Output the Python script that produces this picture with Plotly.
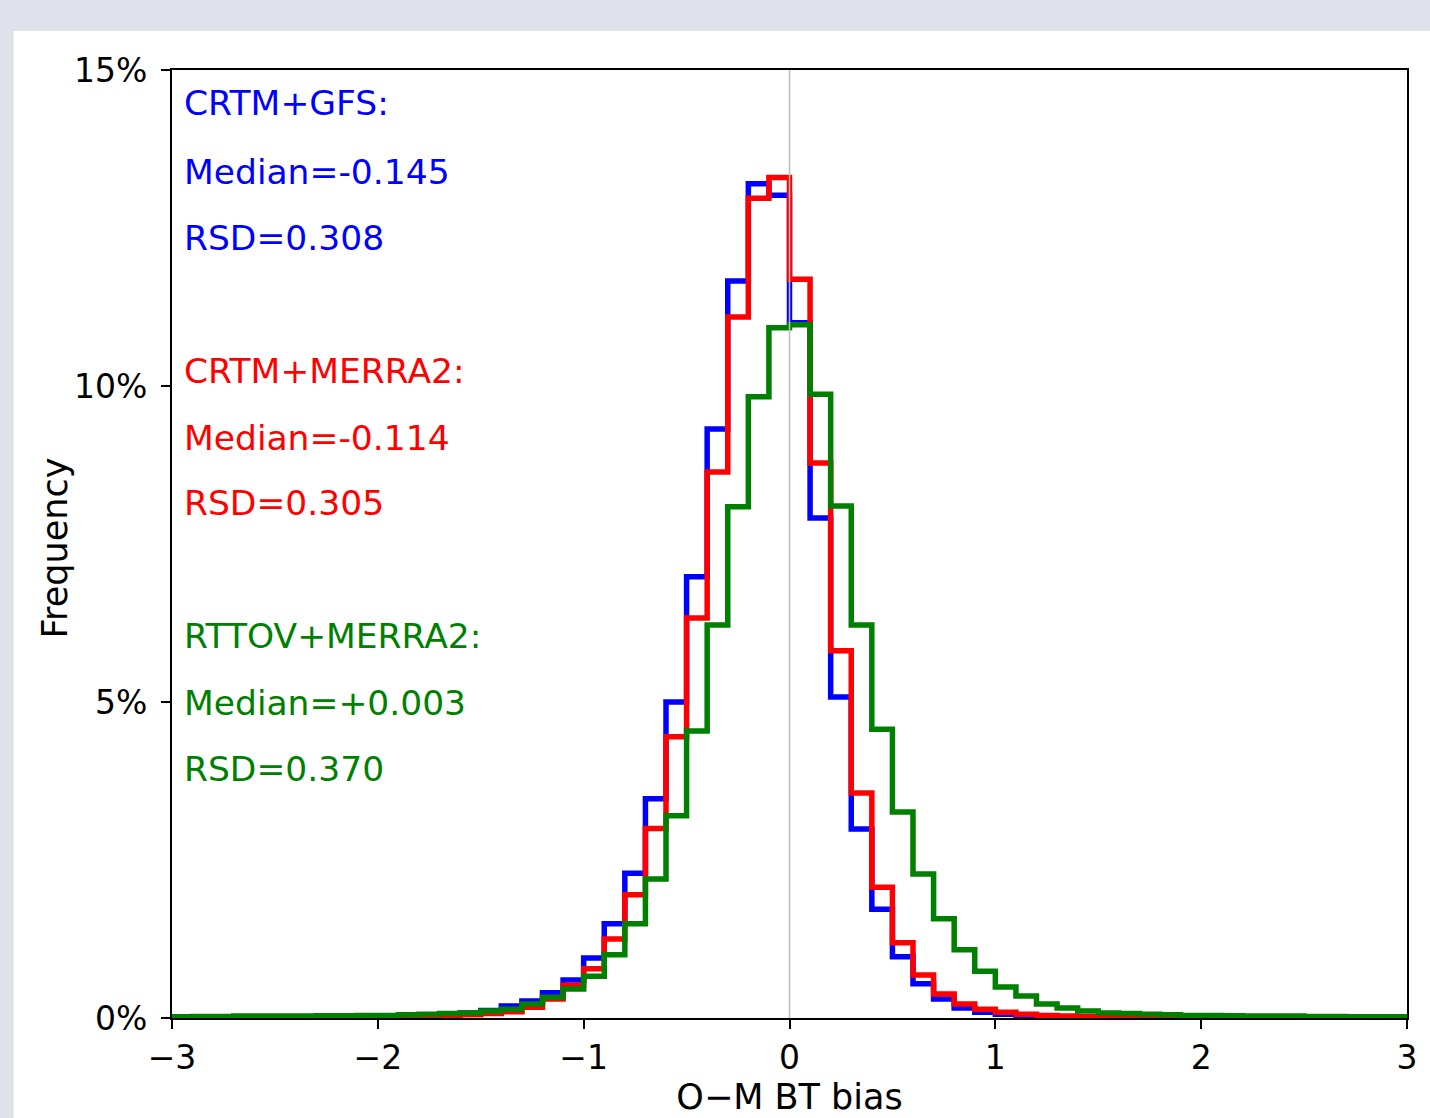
import plotly.graph_objects as go

# ---- data (percent frequency per 0.1-wide bin, from -3 to 3) ----
bin_start = -3.0
bin_width = 0.1

crtm_gfs = [0.005, 0.005, 0.006, 0.007, 0.008, 0.009, 0.010, 0.012, 0.014, 0.016,
            0.02, 0.03, 0.04, 0.06, 0.08,
            0.12, 0.19, 0.27, 0.40, 0.60, 0.95, 1.49, 2.29, 3.47, 5.00,
            6.98, 9.32, 11.66, 13.20, 13.02,
            11.00, 7.91, 5.08, 2.99, 1.72, 0.97, 0.54, 0.30, 0.16, 0.09,
            0.06, 0.04, 0.03, 0.02, 0.015, 0.012, 0.010, 0.009, 0.008, 0.007,
            0.006, 0.006, 0.005, 0.005, 0.004, 0.004, 0.004, 0.003, 0.003, 0.003]

crtm_merra2 = [0.004, 0.004, 0.005, 0.005, 0.006, 0.007, 0.008, 0.009, 0.010, 0.012,
               0.015, 0.02, 0.03, 0.04, 0.05,
               0.07, 0.10, 0.17, 0.30, 0.52, 0.78, 1.25, 1.95, 3.00, 4.45,
               6.33, 8.64, 11.09, 12.97, 13.30,
               11.69, 8.78, 5.81, 3.56, 2.07, 1.19, 0.68, 0.38, 0.22, 0.14,
               0.09, 0.06, 0.04, 0.03, 0.02, 0.015, 0.012, 0.010, 0.009, 0.008,
               0.007, 0.006, 0.006, 0.005, 0.005, 0.004, 0.004, 0.004, 0.003, 0.003]

rttov_merra2 = [0.02, 0.025, 0.025, 0.03, 0.03, 0.03, 0.03, 0.035, 0.035, 0.04,
                0.04, 0.05, 0.06, 0.07, 0.08,
                0.11, 0.14, 0.22, 0.33, 0.46, 0.66, 1.00, 1.49, 2.20, 3.20,
                4.54, 6.22, 8.09, 9.83, 10.92,
                10.97, 9.87, 8.10, 6.22, 4.57, 3.26, 2.28, 1.57, 1.08, 0.74,
                0.49, 0.35, 0.22, 0.16, 0.11, 0.08, 0.07, 0.06, 0.05, 0.04,
                0.04, 0.035, 0.03, 0.03, 0.03, 0.025, 0.025, 0.02, 0.02, 0.02]

series_names = ["CRTM+GFS", "CRTM+MERRA2", "RTTOV+MERRA2"]
series_colors = ["#0000ff", "#ff0000", "#008000"]
series_values = [crtm_gfs, crtm_merra2, rttov_merra2]

stat_lines = [
    ["CRTM+GFS:", "Median=-0.145", "RSD=0.308"],
    ["CRTM+MERRA2:", "Median=-0.114", "RSD=0.305"],
    ["RTTOV+MERRA2:", "Median=+0.003", "RSD=0.370"],
]

x_ticks = [-3, -2, -1, 0, 1, 2, 3]
x_tick_text = ["\u22123", "\u22122", "\u22121", "0", "1", "2", "3"]
y_ticks = [0, 5, 10, 15]
y_tick_text = ["0%", "5%", "10%", "15%"]

FONT = "DejaVu Sans"

fig = go.Figure()

for name, color, vals in zip(series_names, series_colors, series_values):
    n = len(vals)
    edges = [round(bin_start + i * bin_width, 6) for i in range(n + 1)]
    xs = [edges[0]] + edges
    ys = [0] + list(vals) + [0]
    fig.add_trace(go.Scatter(
        x=xs, y=ys, mode="lines", line=dict(shape="hv", color=color, width=5.5),
        name=name, showlegend=False, hoverinfo="skip"))

# vertical reference line at 0
fig.add_trace(go.Scatter(x=[0, 0], y=[0, 15], mode="lines",
                         line=dict(color="#bdbdbd", width=1.5),
                         showlegend=False, hoverinfo="skip"))

PL, PR, PT, PB = 172, 1412, 70, 1018
PW, PH = PR - PL, PB - PT

# white figure panel on grey page
fig.add_shape(type="rect", xref="paper", yref="paper",
              x0=(13 - PL) / PW, x1=(1440 - PL) / PW,
              y0=(PB - 1130) / PH, y1=(PB - 31) / PH,
              fillcolor="white", line=dict(width=0), layer="below")

# stats text
y_pix = [[103, 172, 238], [371, 438, 503], [636, 703, 769]]
for lines, color, ys in zip(stat_lines, series_colors, y_pix):
    for txt, yp in zip(lines, ys):
        fig.add_annotation(
            text=txt, xref="paper", yref="paper",
            x=(182 - PL) / PW, y=(PB - yp) / PH,
            xanchor="left", yanchor="middle", showarrow=False,
            font=dict(family=FONT, size=34.5, color=color))

# y-axis title
fig.add_annotation(
    text="Frequency", xref="paper", yref="paper",
    x=(55 - PL) / PW, y=(PB - 548) / PH, textangle=-90,
    xanchor="center", yanchor="middle", showarrow=False,
    font=dict(family=FONT, size=35, color="black"))

fig.update_layout(
    width=1430, height=1118,
    margin=dict(l=PL, r=1430 - PR, t=PT, b=1118 - PB),
    paper_bgcolor="#dfe2eb",
    plot_bgcolor="white",
    font=dict(family=FONT, size=33, color="black"),
    xaxis=dict(range=[-3, 3], tickmode="array", tickvals=x_ticks, ticktext=x_tick_text,
               showgrid=False, zeroline=False, showline=True, mirror=True,
               linecolor="black", linewidth=2, ticks="outside", ticklen=9,
               tickwidth=2, tickcolor="black",
               title=dict(text="O\u2212M BT bias", standoff=0,
                          font=dict(family=FONT, size=35))),
    yaxis=dict(range=[0, 15], tickmode="array", tickvals=y_ticks, ticktext=y_tick_text,
               showgrid=False, zeroline=False, showline=True, mirror=True,
               linecolor="black", linewidth=2, ticks="outside", ticklen=9,
               tickwidth=2, tickcolor="black", ticklabelstandoff=7),
)

fig.write_html("out.html")
